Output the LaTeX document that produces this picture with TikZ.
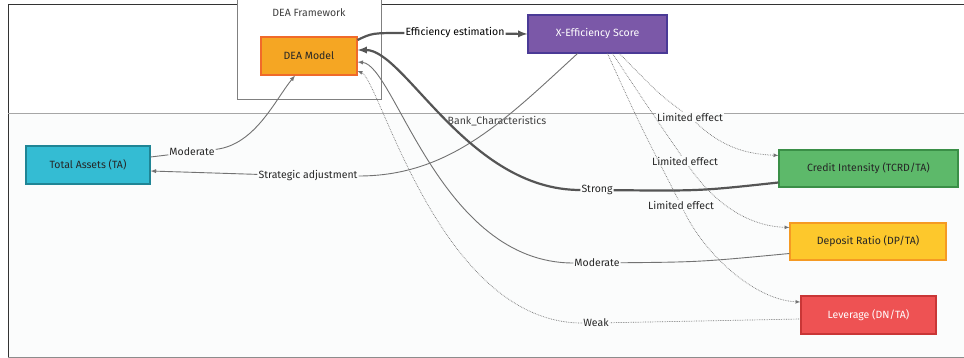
\documentclass[tikz,border=0pt]{standalone}
\usepackage{fontspec}
\setmainfont{Fira Sans}
\usepackage{xcolor}
\usepackage{tikz}
\usetikzlibrary{positioning}

\definecolor{deafill}{HTML}{F5A623}
\definecolor{deaedge}{HTML}{F06A2A}
\definecolor{efffill}{HTML}{7B58A8}
\definecolor{effedge}{HTML}{4A3A96}
\definecolor{tafill}{HTML}{34BCD3}
\definecolor{taedge}{HTML}{1F8595}
\definecolor{cifill}{HTML}{5DB96A}
\definecolor{ciedge}{HTML}{3A8F47}
\definecolor{drfill}{HTML}{FDC82C}
\definecolor{dredge}{HTML}{F59A23}
\definecolor{levfill}{HTML}{EE5253}
\definecolor{levedge}{HTML}{C93636}
\definecolor{linkgrey}{HTML}{727272}
\definecolor{linkdark}{HTML}{555555}
\definecolor{softbg}{HTML}{FBFCFC}

\begin{document}
\begin{tikzpicture}[x=1pt, y=-1pt, font=\fontsize{10.5}{12}\selectfont,
    box/.style={draw, line width=1.1pt, minimum height=38pt, inner sep=2pt, text=black!85},
    lbl/.style={fill=softbg, inner sep=1pt, text=black!85},
    strongedge/.style={draw=linkdark, line width=2.2pt, -latex},
    plainedge/.style={draw=linkgrey, line width=0.9pt, -latex},
    weakedge/.style={draw=linkgrey, densely dotted, line width=0.7pt, -latex}]
  \useasboundingbox (0,0) rectangle (964,358);
  % frames
  \fill[softbg] (8,114) rectangle (964,357);
  \draw[black!80, line width=1pt] (8,357) -- (8,5) -- (964,5);
  \draw[black!45, line width=1pt] (8,357) -- (964,357);
  \draw[black!35, line width=1pt] (8,114) -- (964,114);
  \draw[black!50, fill=white, line width=0.7pt] (237,-5) rectangle (381,99);
  \node[text=black!75] (fwtitle) at (309,13) {DEA Framework};
  \node[text=black!75] (bctitle) at (497,121) {Bank\_Characteristics};

  % nodes
  \node[box, fill=deafill, draw=deaedge, minimum width=96pt] (dea) at (309,56) {DEA Model};
  \node[box, fill=efffill, draw=effedge, minimum width=139pt, text=white] (xeff) at (597.5,34) {X-Efficiency Score};
  \node[box, fill=tafill, draw=taedge, minimum width=124pt] (ta) at (88,165) {Total Assets (TA)};
  \node[box, fill=cifill, draw=ciedge, minimum width=179pt, minimum height=37pt] (ci) at (868.5,168.5) {Credit Intensity (TCRD/TA)};
  \node[box, fill=drfill, draw=dredge, minimum width=156pt, minimum height=37pt] (dr) at (868,241.5) {Deposit Ratio (DP/TA)};
  \node[box, fill=levfill, draw=levedge, minimum width=135pt, text=white] (lev) at (868.5,315) {Leverage (DN/TA)};

  % edge labels
  \node[lbl, fill=white, text=black] (leff) at (455,33) {Efficiency estimation};
  \node[lbl] (lmodta) at (192,152) {Moderate};
  \node[lbl] (lstrat) at (308,176) {Strategic adjustment};
  \node[lbl] (lstrong) at (597,190) {Strong};
  \node[lbl] (lmoddr) at (597,263) {Moderate};
  \node[lbl] (lweak) at (596,323) {Weak};
  \node[lbl] (llimci) at (690,117) {Limited effect};
  \node[lbl] (llimdr) at (685,161) {Limited effect};
  \node[lbl] (llimlev) at (681,205) {Limited effect};

  % edges
  \draw[strongedge] ([yshift=16pt]dea.east) .. controls (372,33) .. (leff) -- (xeff.west);
  \draw[plainedge] ([yshift=8pt]ta.east) -- (lmodta) .. controls (255,145) and (275,100) .. ([xshift=-14pt]dea.south);
  \draw[plainedge] ([xshift=-20pt]xeff.south) .. controls (505,120) and (450,176) .. (lstrat) -- ([yshift=-6pt]ta.east);
  \draw[strongedge] ([yshift=-14pt]ci.west) .. controls (700,191) .. (lstrong) .. controls (468,190) and (405,50) .. ([yshift=6pt]dea.east);
  \draw[plainedge] ([yshift=-12pt]dr.west) .. controls (700,262) .. (lmoddr) .. controls (440,263) and (395,65) .. ([yshift=-6pt]dea.east);
  \draw[weakedge] ([yshift=-4pt]lev.west) .. controls (700,321) .. (lweak) .. controls (440,323) and (380,80) .. ([yshift=-15pt]dea.east);
  \draw[weakedge] ([xshift=22pt]xeff.south) .. controls (660,95) .. (llimci) .. controls (725,150) and (750,154) .. ([yshift=13pt]ci.west);
  \draw[weakedge] ([xshift=15pt]xeff.south) .. controls (650,110) .. (llimdr) .. controls (712,200) and (745,226) .. ([yshift=14pt]dr.west);
  \draw[weakedge] ([xshift=10pt]xeff.south) .. controls (640,125) .. (llimlev) .. controls (705,255) and (755,300) .. ([yshift=13pt]lev.west);
\end{tikzpicture}
\end{document}
